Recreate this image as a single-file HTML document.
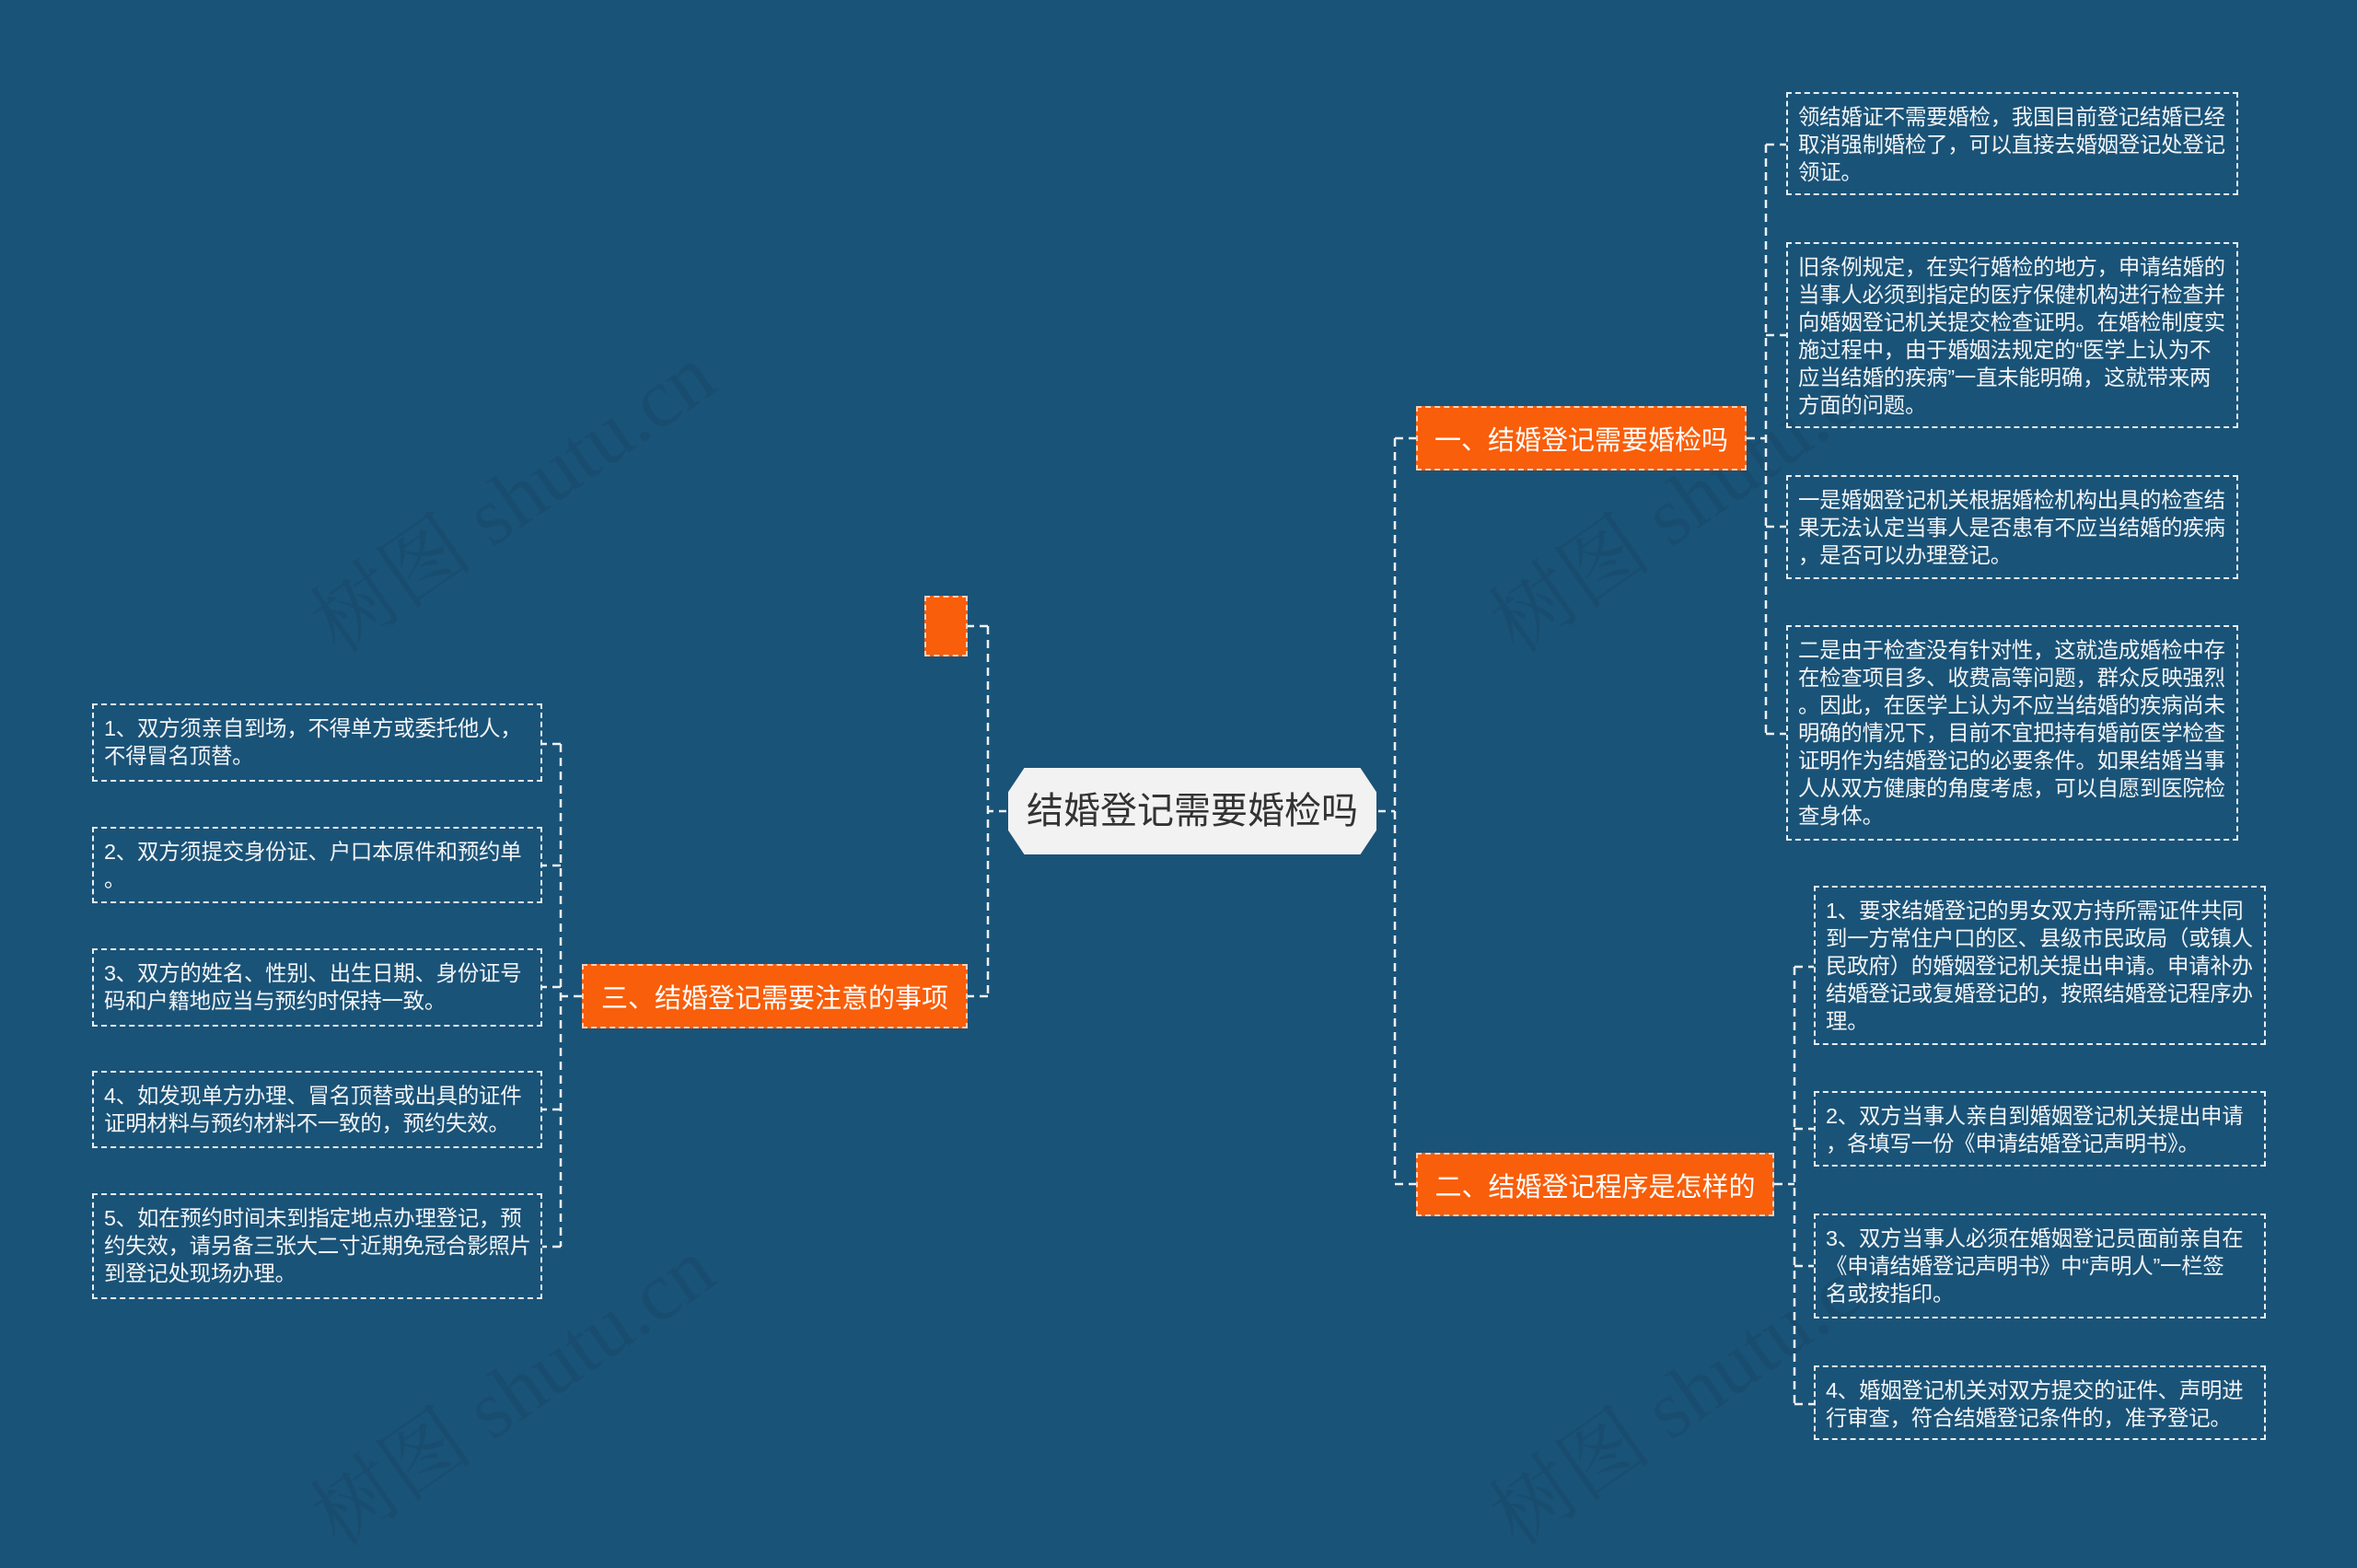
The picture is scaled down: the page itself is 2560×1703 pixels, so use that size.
<!DOCTYPE html>
<html><head><meta charset="utf-8"><style>
html,body{margin:0;padding:0;}
body{width:2560px;height:1665px;background:#1a5378;position:relative;overflow:hidden;font-family:"Liberation Sans","Noto Sans CJK SC",sans-serif;}
.leaf{position:absolute;box-sizing:border-box;border:2px dashed #e8eef2;color:#f2f4f6;font-size:23.4px;line-height:30px;padding:10px 0 0 11px;white-space:nowrap;letter-spacing:-0.2px;}
.br{position:absolute;box-sizing:border-box;background:#f95e0a;border:2px dashed #f4d0bb;color:#fff;font-size:29px;display:flex;align-items:center;justify-content:center;white-space:nowrap;}
svg{position:absolute;left:0;top:0;}
.wm{position:absolute;color:rgba(0,0,0,0.07);font-size:90px;font-family:"Liberation Serif","Noto Serif CJK SC",serif;transform:rotate(-35deg);white-space:nowrap;}
</style></head><body>
<div class="wm" style="left:300px;top:470px;">树图 shutu.cn</div>
<div class="wm" style="left:1580px;top:470px;">树图 shutu.cn</div>
<div class="wm" style="left:300px;top:1440px;">树图 shutu.cn</div>
<div class="wm" style="left:1580px;top:1440px;">树图 shutu.cn</div>
<svg width="2560" height="1665"><g stroke="#eef2f5" stroke-width="2.5" stroke-dasharray="9 6" fill="none">
<path d="M1496 881 H1515 M1515 476 V1286 M1515 476 H1538 M1515 1286 H1538"/>
<path d="M1897 476 H1918 M1918 157 V797 M1918 157 H1940 M1918 364 H1940 M1918 572 H1940 M1918 797 H1940"/>
<path d="M1927 1286 H1949 M1949 1050 V1525 M1949 1050 H1970 M1949 1226 H1970 M1949 1375 H1970 M1949 1525 H1970"/>
<path d="M1094 881 H1073 M1073 680 V1082 M1073 680 H1051 M1073 1082 H1051"/>
<path d="M632 1082 H609 M609 808 V1354 M609 808 H589 M609 940 H589 M609 1072 H589 M609 1205 H589 M609 1354 H589"/>
</g>
<polygon points="1112,833 1478,833 1496,860 1496,902 1478,929 1112,929 1094,902 1094,860" fill="#f2f2f2" stroke="#1a5378" stroke-width="2"/>
<text x="1295" y="894" font-size="40" fill="#333" text-anchor="middle" font-family="Liberation Sans, Noto Sans CJK SC, sans-serif">结婚登记需要婚检吗</text>
</svg>
<div class="br" style="left:1538px;top:441px;width:359px;height:70px;">一、结婚登记需要婚检吗</div>
<div class="br" style="left:1538px;top:1252px;width:389px;height:69px;">二、结婚登记程序是怎样的</div>
<div class="br" style="left:632px;top:1047px;width:419px;height:70px;">三、结婚登记需要注意的事项</div>
<div class="br" style="left:1004px;top:647px;width:47px;height:66px;"></div>

<div class="leaf" style="left:1940px;top:100px;width:491px;height:112px;">领结婚证不需要婚检，我国目前登记结婚已经<br>取消强制婚检了，可以直接去婚姻登记处登记<br>领证。</div>
<div class="leaf" style="left:1940px;top:263px;width:491px;height:202px;">旧条例规定，在实行婚检的地方，申请结婚的<br>当事人必须到指定的医疗保健机构进行检查并<br>向婚姻登记机关提交检查证明。在婚检制度实<br>施过程中，由于婚姻法规定的“医学上认为不<br>应当结婚的疾病”一直未能明确，这就带来两<br>方面的问题。</div>
<div class="leaf" style="left:1940px;top:516px;width:491px;height:113px;">一是婚姻登记机关根据婚检机构出具的检查结<br>果无法认定当事人是否患有不应当结婚的疾病<br>，是否可以办理登记。</div>
<div class="leaf" style="left:1940px;top:679px;width:491px;height:234px;">二是由于检查没有针对性，这就造成婚检中存<br>在检查项目多、收费高等问题，群众反映强烈<br>。因此，在医学上认为不应当结婚的疾病尚未<br>明确的情况下，目前不宜把持有婚前医学检查<br>证明作为结婚登记的必要条件。如果结婚当事<br>人从双方健康的角度考虑，可以自愿到医院检<br>查身体。</div>

<div class="leaf" style="left:1970px;top:962px;width:491px;height:173px;">1、要求结婚登记的男女双方持所需证件共同<br>到一方常住户口的区、县级市民政局（或镇人<br>民政府）的婚姻登记机关提出申请。申请补办<br>结婚登记或复婚登记的，按照结婚登记程序办<br>理。</div>
<div class="leaf" style="left:1970px;top:1185px;width:491px;height:82px;">2、双方当事人亲自到婚姻登记机关提出申请<br>，各填写一份《申请结婚登记声明书》。</div>
<div class="leaf" style="left:1970px;top:1318px;width:491px;height:114px;">3、双方当事人必须在婚姻登记员面前亲自在<br>《申请结婚登记声明书》中“声明人”一栏签<br>名或按指印。</div>
<div class="leaf" style="left:1970px;top:1483px;width:491px;height:81px;">4、婚姻登记机关对双方提交的证件、声明进<br>行审查，符合结婚登记条件的，准予登记。</div>

<div class="leaf" style="left:100px;top:764px;width:489px;height:85px;">1、双方须亲自到场，不得单方或委托他人，<br>不得冒名顶替。</div>
<div class="leaf" style="left:100px;top:898px;width:489px;height:83px;">2、双方须提交身份证、户口本原件和预约单<br>。</div>
<div class="leaf" style="left:100px;top:1030px;width:489px;height:85px;">3、双方的姓名、性别、出生日期、身份证号<br>码和户籍地应当与预约时保持一致。</div>
<div class="leaf" style="left:100px;top:1163px;width:489px;height:84px;">4、如发现单方办理、冒名顶替或出具的证件<br>证明材料与预约材料不一致的，预约失效。</div>
<div class="leaf" style="left:100px;top:1296px;width:489px;height:115px;">5、如在预约时间未到指定地点办理登记，预<br>约失效，请另备三张大二寸近期免冠合影照片<br>到登记处现场办理。</div>
</body></html>
